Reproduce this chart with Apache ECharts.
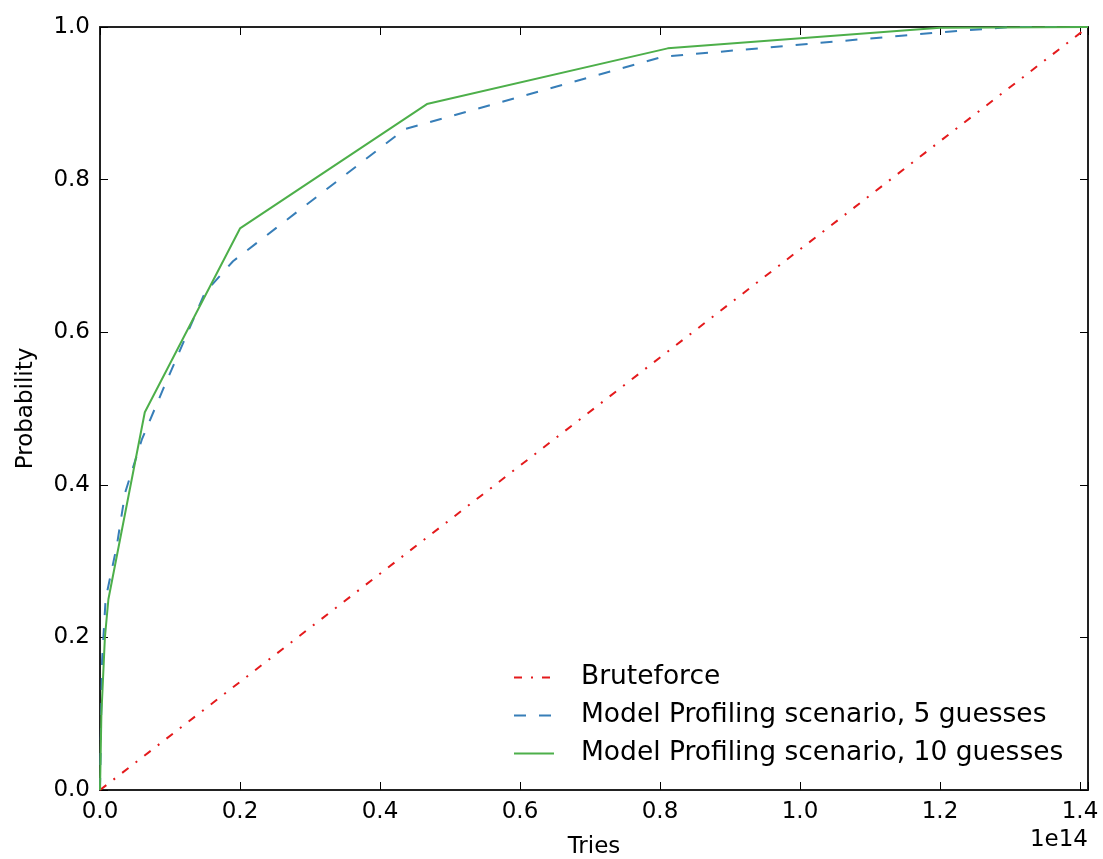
<!DOCTYPE html>
<html>
<head>
<meta charset="utf-8">
<script src="https://cdn.jsdelivr.net/npm/echarts@6/dist/echarts.min.js"></script>
<style>
  html, body { margin: 0; padding: 0; background: #fff; }
  #chart { width: 1103px; height: 859px; }
</style>
</head>
<body>
<div id="chart"></div>
<script>
// x values are tries in units of 1e14
const xMax = 1.4114;

const bruteX = [0, 1.4114];
const bruteY = [0, 1];

const guess5X = [0, 0.003, 0.008, 0.024, 0.036, 0.06, 0.09, 0.15, 0.19, 0.435, 0.804, 1.2, 1.3, 1.4114];
const guess5Y = [0, 0.17, 0.25, 0.32, 0.39, 0.46, 0.525, 0.652, 0.693, 0.866, 0.961, 0.993, 1.0, 1.0];

const guess10X = [0, 0.002, 0.007, 0.012, 0.064, 0.2, 0.467, 0.811, 1.2, 1.4114];
const guess10Y = [0, 0.1, 0.2, 0.25, 0.495, 0.736, 0.899, 0.972, 0.999, 1.0];

const seriesNames = [
  "Bruteforce",
  "Model Profiling scenario, 5 guesses",
  "Model Profiling scenario, 10 guesses"
];

const pairs = (xs, ys) => xs.map((x, i) => [x, ys[i]]);

const FONT = "DejaVu Sans";
const chart = echarts.init(document.getElementById("chart"));

// 刻度朝内，四边都有（matplotlib classic 风格）
const tickStyle = { show: true, inside: true, length: 8, lineStyle: { color: "#000", width: 1 } };
const lineStyle = { show: true, onZero: false, lineStyle: { color: "#222", width: 2 } };
const onTick = v => Math.abs(v / 0.2 - Math.round(v / 0.2)) < 1e-6;

const option = {
  animation: false,
  backgroundColor: "#fff",
  grid: { left: 100, right: 15, top: 27, bottom: 69, containLabel: false, outerBoundsMode: "none" },
  title: {
    text: "1e14",
    right: 15,
    top: 829,
    padding: 0,
    textStyle: { fontFamily: FONT, fontSize: 23, fontWeight: "normal", color: "#000" }
  },
  legend: {
    data: seriesNames,
    orient: "vertical",
    left: 508,
    top: 659,
    itemWidth: 40,
    itemHeight: 14,
    itemGap: 11,
    itemStyle: { opacity: 0 },
    textStyle: { fontFamily: FONT, fontSize: 26.5, color: "#000", padding: [0, 0, 0, 22] }
  },
  xAxis: [
    {
      type: "value",
      position: "bottom",
      min: 0,
      max: xMax,
      interval: 0.2,
      name: "Tries",
      nameLocation: "middle",
      nameGap: 46,
      nameTextStyle: { fontFamily: FONT, fontSize: 23, color: "#000" },
      axisLine: lineStyle,
      axisTick: tickStyle,
      splitLine: { show: false },
      axisLabel: {
        margin: 11,
        fontFamily: FONT,
        fontSize: 23,
        color: "#000",
        formatter: v => (onTick(v) ? v.toFixed(1) : "")
      }
    },
    {
      type: "value",
      position: "top",
      min: 0,
      max: xMax,
      interval: 0.2,
      axisLine: lineStyle,
      axisTick: tickStyle,
      splitLine: { show: false },
      axisLabel: { show: false }
    }
  ],
  yAxis: [
    {
      type: "value",
      position: "left",
      min: 0,
      max: 1,
      interval: 0.2,
      name: "Probability",
      nameLocation: "middle",
      nameGap: 62,
      nameTextStyle: { fontFamily: FONT, fontSize: 23, color: "#000" },
      axisLine: lineStyle,
      axisTick: tickStyle,
      splitLine: { show: false },
      axisLabel: {
        margin: 10,
        fontFamily: FONT,
        fontSize: 23,
        color: "#000",
        formatter: v => v.toFixed(1)
      }
    },
    {
      type: "value",
      position: "right",
      min: 0,
      max: 1,
      interval: 0.2,
      axisLine: lineStyle,
      axisTick: tickStyle,
      splitLine: { show: false },
      axisLabel: { show: false }
    }
  ],
  series: [
    {
      name: seriesNames[0],
      type: "line",
      symbol: "none",
      data: pairs(bruteX, bruteY),
      color: "#E41A1C",
      lineStyle: { width: 2, type: [8, 9, 2, 9] }
    },
    {
      name: seriesNames[1],
      type: "line",
      symbol: "none",
      data: pairs(guess5X, guess5Y),
      color: "#377EB8",
      lineStyle: { width: 2, type: [12, 13] }
    },
    {
      name: seriesNames[2],
      type: "line",
      symbol: "none",
      data: pairs(guess10X, guess10Y),
      color: "#4DAF4A",
      lineStyle: { width: 2, type: "solid" }
    }
  ]
};

chart.setOption(option);
</script>
</body>
</html>
